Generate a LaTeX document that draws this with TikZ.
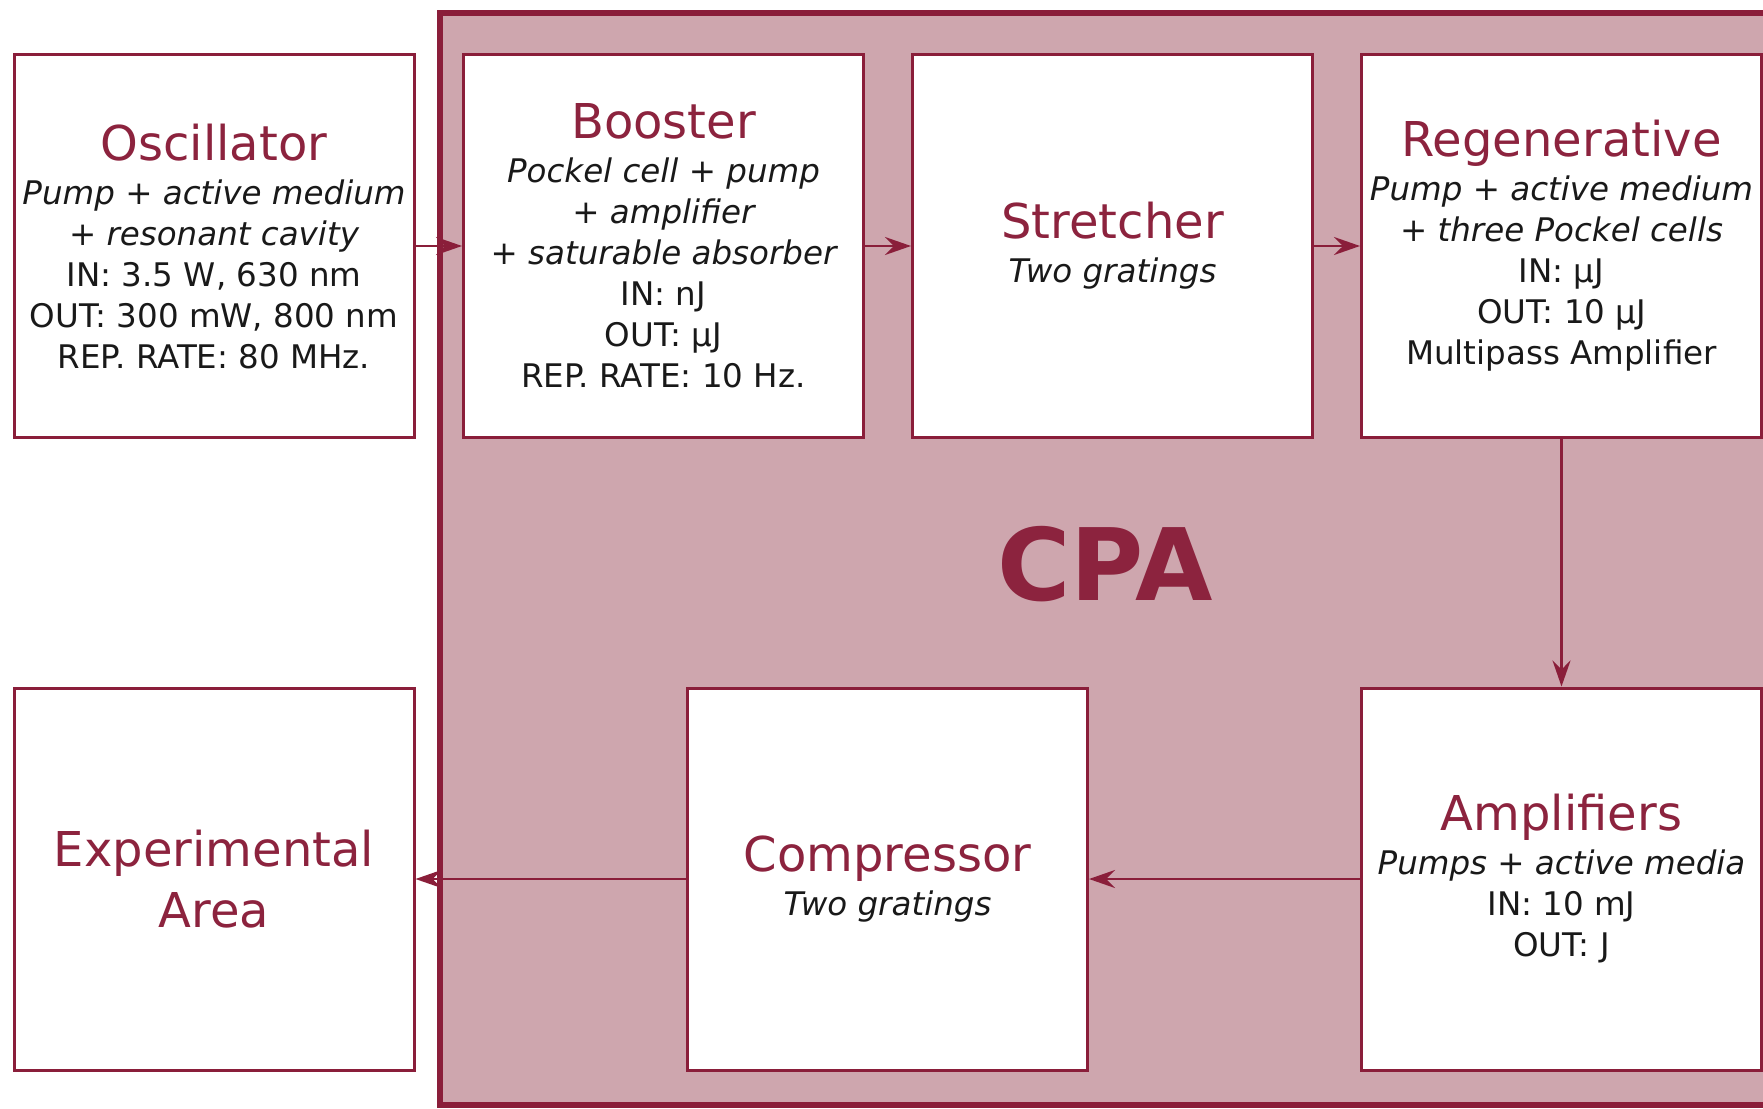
\documentclass[tikz,border=0pt]{standalone}
\usepackage{fontspec}
\setmainfont{DejaVu Sans}
\usetikzlibrary{arrows.meta}
\definecolor{maroon}{RGB}{138,30,58}
\definecolor{cpafill}{RGB}{206,166,174}
\definecolor{titlec}{RGB}{140,35,62}
\definecolor{bodyc}{RGB}{25,25,25}
\newcommand\boxtitle[1]{{\fontsize{48}{48}\selectfont\color{titlec}#1}}
\begin{document}
\begin{tikzpicture}[x=1pt,y=-1pt,
  box/.style={draw=maroon, line width=3pt, fill=white, minimum width=400pt,
    minimum height=382pt, inner sep=0pt, align=center, text=bodyc,
    font=\fontsize{32.5}{41}\selectfont},
  conn/.style={draw=maroon, line width=2.5pt,
    -{Stealth[length=26pt,width=18pt,inset=9pt]}},
  cpatext/.style={font=\fontsize{100}{100}\selectfont\bfseries, text=titlec}
]
\useasboundingbox (0,0) rectangle (1763,1108);
\clip (0,0) rectangle (1763,1108);
\fill[white] (0,0) rectangle (1763,1108);
\draw[draw=maroon, line width=6pt, fill=cpafill] (440,13) rectangle (1800,1105);

\node[box] (osc) at (214,246) {\boxtitle{Oscillator}\\[3pt]
  \itshape Pump + active medium\\ \itshape + resonant cavity\\
  IN: 3.5 W, 630 nm\\ OUT: 300 mW, 800 nm\\ REP. RATE: 80 MHz.};
\node[box] (boo) at (663.5,246) {\boxtitle{Booster}\\[3pt]
  \itshape Pockel cell + pump\\ \itshape + amplifier\\ \itshape + saturable absorber\\
  IN: nJ\\ OUT: µJ\\ REP. RATE: 10 Hz.};
\node[box] (str) at (1112.5,246) {\boxtitle{Stretcher}\\[3pt] \itshape Two gratings};
\node[box] (reg) at (1561.5,246) {\boxtitle{Regenerative}\\[3pt]
  \itshape Pump + active medium\\ \itshape + three Pockel cells\\
  IN: µJ\\ OUT: 10 µJ\\ Multipass Amplifier};
\node[box] (exa) at (214,879) {\boxtitle{Experimental}\\[15pt]\boxtitle{Area}};
\node[box] (com) at (887.5,879) {\boxtitle{Compressor}\\[3pt] \itshape Two gratings};
\node[box] (amp) at (1561.5,879) {\boxtitle{Amplifiers}\\[3pt]
  \itshape Pumps + active media\\ IN: 10 mJ\\ OUT: J};
\node[cpatext] (cpa) at (1105,564) {CPA};

\draw[conn] (osc.east) -- (boo.west);
\draw[conn] (boo.east) -- (str.west);
\draw[conn] (str.east) -- (reg.west);
\draw[conn] (reg.south) -- (amp.north);
\draw[conn] (amp.west) -- (com.east);
\draw[conn] (com.west) -- (exa.east);
\end{tikzpicture}
\end{document}
